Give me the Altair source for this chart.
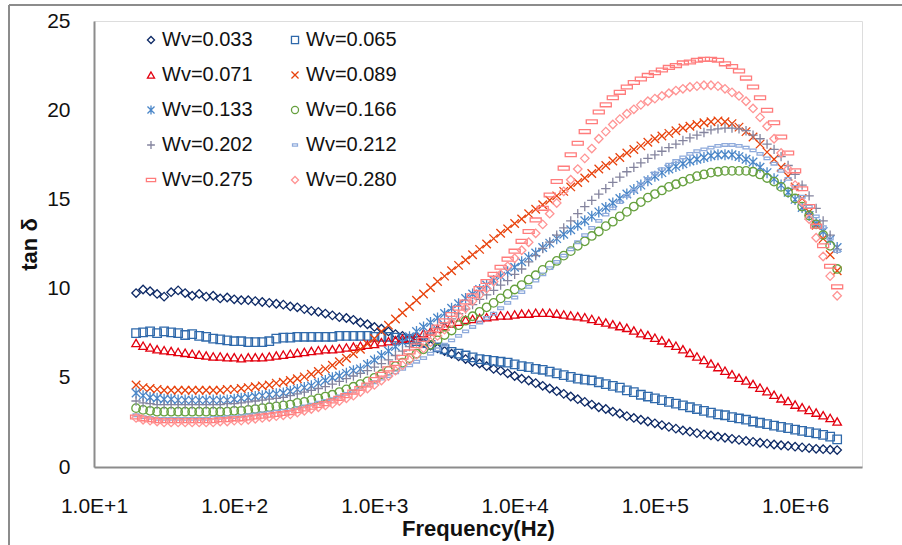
import altair as alt
import pandas as pd

series_names = ["Wv=0.033", "Wv=0.065", "Wv=0.071", "Wv=0.089", "Wv=0.133",
                "Wv=0.166", "Wv=0.202", "Wv=0.212", "Wv=0.275", "Wv=0.280"]

# measurement grid: 20 Hz .. 2 MHz, 20 points per decade
freq_hz = [10 ** (1.30 + 0.05 * i) for i in range(101)]

wv_0033 = [9.75, 9.95, 9.85, 9.7, 9.55, 9.8, 9.9, 9.75, 9.6, 9.7,
           9.55, 9.6, 9.45, 9.5, 9.4, 9.35, 9.35, 9.3, 9.25, 9.2,
           9.15, 9.1, 9.0, 8.95, 8.85, 8.75, 8.7, 8.6, 8.5, 8.4,
           8.35, 8.25, 8.1, 8.0, 7.85, 7.75, 7.6, 7.45, 7.35, 7.2,
           7.1, 6.95, 6.8, 6.65, 6.5, 6.35, 6.2, 6.05, 5.9, 5.8,
           5.65, 5.5, 5.4, 5.25, 5.1, 4.95, 4.85, 4.7, 4.55, 4.4,
           4.25, 4.1, 3.95, 3.8, 3.65, 3.5, 3.35, 3.25, 3.1, 3.0,
           2.85, 2.75, 2.65, 2.55, 2.45, 2.35, 2.25, 2.15, 2.05, 1.98,
           1.9, 1.83, 1.77, 1.7, 1.64, 1.58, 1.52, 1.46, 1.41, 1.36,
           1.31, 1.26, 1.22, 1.18, 1.14, 1.1, 1.06, 1.02, 1.0, 0.97,
           0.95]
wv_0065 = [7.5, 7.55, 7.6, 7.5, 7.6, 7.55, 7.5, 7.4, 7.45, 7.35,
           7.3, 7.2, 7.15, 7.1, 7.05, 7.05, 7.0, 7.0, 7.0, 7.05,
           7.2, 7.25, 7.25, 7.3, 7.3, 7.3, 7.3, 7.3, 7.3, 7.35,
           7.35, 7.35, 7.35, 7.35, 7.3, 7.3, 7.3, 7.25, 7.2, 7.15,
           7.05, 6.95, 6.85, 6.7, 6.6, 6.45, 6.35, 6.25, 6.15, 6.05,
           6.0, 5.95, 5.9, 5.85, 5.75, 5.65, 5.6, 5.5, 5.45, 5.35,
           5.25, 5.15, 5.05, 4.95, 4.9, 4.85, 4.75, 4.65, 4.55, 4.45,
           4.3, 4.2, 4.05, 3.95, 3.85, 3.75, 3.65, 3.55, 3.45, 3.35,
           3.25, 3.15, 3.05, 2.95, 2.9, 2.8, 2.72, 2.65, 2.55, 2.48,
           2.4, 2.32, 2.25, 2.18, 2.1, 2.02, 1.95, 1.88, 1.8, 1.7,
           1.55]
wv_0071 = [6.95, 6.8, 6.7, 6.6, 6.55, 6.5, 6.45, 6.4, 6.35, 6.3,
           6.25, 6.2, 6.2, 6.15, 6.15, 6.1, 6.15, 6.15, 6.15, 6.2,
           6.25, 6.3, 6.35, 6.4, 6.45, 6.5, 6.55, 6.6, 6.6, 6.65,
           6.7, 6.75, 6.8, 6.85, 6.9, 7.0, 7.05, 7.1, 7.2, 7.25,
           7.35, 7.5, 7.6, 7.75, 7.9, 8.05, 8.15, 8.25, 8.3, 8.35,
           8.4, 8.45, 8.5, 8.5, 8.55, 8.6, 8.6, 8.65, 8.65, 8.65,
           8.6, 8.55, 8.5, 8.45, 8.4, 8.3, 8.2, 8.1, 8.0, 7.9,
           7.8, 7.65, 7.5, 7.4, 7.25, 7.1, 6.95, 6.8, 6.6, 6.4,
           6.2, 6.0, 5.8, 5.6, 5.4, 5.2, 5.0, 4.85, 4.65, 4.45,
           4.25, 4.05, 3.85, 3.7, 3.5, 3.35, 3.2, 3.05, 2.9, 2.75,
           2.55]
wv_0089 = [4.6, 4.45, 4.4, 4.35, 4.3, 4.3, 4.3, 4.3, 4.3, 4.3,
           4.3, 4.3, 4.3, 4.35, 4.35, 4.4, 4.45, 4.5, 4.55, 4.6,
           4.7, 4.75, 4.85, 4.95, 5.05, 5.2, 5.35, 5.5, 5.7, 5.9,
           6.1, 6.35, 6.6, 6.9, 7.2, 7.6, 7.95, 8.3, 8.65, 9.0,
           9.35, 9.7, 10.05, 10.4, 10.7, 11.0, 11.3, 11.6, 11.9, 12.2,
           12.5, 12.8, 13.1, 13.35, 13.65, 13.9, 14.2, 14.45, 14.7, 14.95,
           15.2, 15.45, 15.7, 15.95, 16.2, 16.45, 16.7, 16.9, 17.15, 17.35,
           17.6, 17.8, 18.0, 18.2, 18.4, 18.55, 18.7, 18.85, 19.0, 19.1,
           19.2, 19.3, 19.35, 19.4, 19.35, 19.25, 19.05, 18.8, 18.5, 18.1,
           17.65, 17.25, 16.8, 16.3, 15.7, 15.05, 14.3, 13.55, 12.8, 11.9,
           11.0]
wv_0133 = [4.15, 4.0, 3.9, 3.85, 3.8, 3.8, 3.75, 3.75, 3.75, 3.75,
           3.75, 3.75, 3.75, 3.75, 3.8, 3.85, 3.9, 3.95, 4.0, 4.05,
           4.1, 4.15, 4.25, 4.35, 4.45, 4.55, 4.7, 4.85, 5.0, 5.1,
           5.25, 5.4, 5.5, 5.75, 6.0, 6.25, 6.5, 6.75, 7.0, 7.3,
           7.6, 7.85, 8.1, 8.35, 8.6, 8.9, 9.15, 9.45, 9.7, 9.95,
           10.2, 10.45, 10.7, 10.95, 11.2, 11.5, 11.75, 12.0, 12.3, 12.55,
           12.8, 13.05, 13.3, 13.55, 13.8, 14.05, 14.3, 14.55, 14.8, 15.05,
           15.3, 15.55, 15.8, 16.05, 16.3, 16.5, 16.7, 16.85, 17.0, 17.15,
           17.25, 17.35, 17.45, 17.5, 17.5, 17.5, 17.4, 17.25, 17.1, 16.8,
           16.5, 16.15, 15.8, 15.4, 15.0, 14.55, 14.1, 13.65, 13.2, 12.75,
           12.3]
wv_0166 = [3.3, 3.2, 3.15, 3.1, 3.1, 3.1, 3.1, 3.1, 3.1, 3.1,
           3.1, 3.1, 3.1, 3.1, 3.15, 3.15, 3.2, 3.25, 3.3, 3.35,
           3.4, 3.45, 3.5, 3.6, 3.65, 3.75, 3.85, 3.95, 4.05, 4.2,
           4.35, 4.5, 4.65, 4.8, 5.0, 5.2, 5.4, 5.65, 5.85, 6.1,
           6.35, 6.6, 6.85, 7.1, 7.4, 7.65, 7.95, 8.2, 8.45, 8.7,
           8.95, 9.2, 9.45, 9.7, 9.95, 10.2, 10.5, 10.75, 11.05, 11.3,
           11.55, 11.85, 12.1, 12.4, 12.65, 12.95, 13.2, 13.5, 13.75, 14.05,
           14.3, 14.6, 14.85, 15.1, 15.3, 15.5, 15.7, 15.85, 16.0, 16.15,
           16.3, 16.4, 16.5, 16.55, 16.6, 16.6, 16.6, 16.6, 16.55, 16.4,
           16.2, 16.0, 15.7, 15.4, 15.05, 14.6, 14.1, 13.6, 13.0, 12.4,
           11.1]
wv_0202 = [3.7, 3.6, 3.55, 3.5, 3.5, 3.5, 3.5, 3.5, 3.5, 3.5,
           3.5, 3.5, 3.5, 3.55, 3.55, 3.6, 3.65, 3.7, 3.75, 3.8,
           3.85, 3.9, 4.0, 4.1, 4.2, 4.3, 4.4, 4.5, 4.65, 4.8,
           4.95, 5.1, 5.25, 5.4, 5.6, 5.8, 6.0, 6.25, 6.5, 6.75,
           7.0, 7.25, 7.5, 7.8, 8.05, 8.3, 8.6, 8.85, 9.1, 9.4,
           9.65, 9.9, 10.2, 10.45, 10.8, 11.1, 11.5, 11.85, 12.25, 12.6,
           13.0, 13.4, 13.8, 14.2, 14.6, 14.95, 15.3, 15.6, 15.95, 16.25,
           16.55, 16.8, 17.05, 17.3, 17.5, 17.7, 17.9, 18.1, 18.3, 18.45,
           18.6, 18.75, 18.9, 18.95, 19.0, 19.0, 18.95, 18.85, 18.6, 18.4,
           18.1, 17.8, 17.4, 16.9, 16.4, 15.8, 15.2, 14.5, 13.8, 13.0,
           12.2]
wv_0212 = [2.9, 2.8, 2.75, 2.7, 2.7, 2.7, 2.7, 2.7, 2.7, 2.7,
           2.7, 2.75, 2.75, 2.8, 2.8, 2.85, 2.9, 2.95, 3.0, 3.05,
           3.1, 3.15, 3.2, 3.3, 3.4, 3.5, 3.6, 3.7, 3.8, 3.95,
           4.1, 4.25, 4.45, 4.6, 4.75, 4.95, 5.1, 5.3, 5.5, 5.7,
           5.9, 6.1, 6.35, 6.6, 6.85, 7.1, 7.35, 7.6, 7.85, 8.1,
           8.35, 8.6, 8.9, 9.2, 9.5, 9.8, 10.1, 10.45, 10.8, 11.15,
           11.5, 11.85, 12.2, 12.6, 13.0, 13.4, 13.8, 14.15, 14.5, 14.85,
           15.2, 15.5, 15.85, 16.15, 16.45, 16.7, 16.95, 17.15, 17.35, 17.55,
           17.7, 17.8, 17.9, 18.0, 18.05, 18.05, 18.0, 17.9, 17.75, 17.55,
           17.3, 17.0, 16.6, 16.15, 15.7, 15.15, 14.6, 14.05, 13.45, 12.8,
           12.1]
wv_0275 = [2.8, 2.7, 2.65, 2.6, 2.6, 2.6, 2.6, 2.6, 2.6, 2.6,
           2.6, 2.6, 2.65, 2.65, 2.7, 2.7, 2.75, 2.8, 2.85, 2.9,
           2.95, 3.0, 3.05, 3.15, 3.25, 3.35, 3.45, 3.55, 3.7, 3.85,
           4.0, 4.2, 4.4, 4.6, 4.9, 5.2, 5.5, 5.8, 6.15, 6.45,
           6.8, 7.15, 7.5, 7.85, 8.2, 8.55, 8.9, 9.25, 9.6, 10.0,
           10.4, 10.8, 11.2, 11.65, 12.1, 12.65, 13.2, 13.85, 14.5, 15.25,
           16.0, 16.75, 17.5, 18.15, 18.8, 19.35, 19.9, 20.3, 20.7, 21.0,
           21.3, 21.55, 21.75, 21.95, 22.1, 22.25, 22.4, 22.5, 22.65, 22.7,
           22.8, 22.85, 22.85, 22.8, 22.6, 22.45, 22.2, 21.8, 21.3, 20.7,
           20.0, 19.3, 18.5, 17.6, 16.6, 15.6, 14.6, 13.5, 12.4, 11.25,
           10.1]
wv_0280 = [2.75, 2.65, 2.6, 2.55, 2.5, 2.5, 2.5, 2.5, 2.5, 2.5,
           2.5, 2.5, 2.55, 2.55, 2.6, 2.6, 2.65, 2.7, 2.75, 2.8,
           2.85, 2.9, 2.95, 3.05, 3.15, 3.25, 3.35, 3.45, 3.55, 3.7,
           3.85, 4.0, 4.2, 4.4, 4.6, 4.85, 5.1, 5.4, 5.7, 6.0,
           6.3, 6.65, 7.0, 7.35, 7.7, 8.1, 8.5, 8.9, 9.3, 9.65,
           10.0, 10.4, 10.8, 11.25, 11.7, 12.15, 12.6, 13.1, 13.6, 14.2,
           14.8, 15.45, 16.1, 16.7, 17.3, 17.85, 18.4, 18.8, 19.2, 19.5,
           19.8, 20.05, 20.3, 20.5, 20.65, 20.8, 20.95, 21.1, 21.2, 21.3,
           21.35, 21.4, 21.4, 21.35, 21.2, 21.0, 20.8, 20.5, 20.1, 19.6,
           19.1, 18.4, 17.6, 16.7, 15.8, 14.85, 13.9, 12.85, 11.8, 10.7,
           9.6]

all_values = [wv_0033, wv_0065, wv_0071, wv_0089, wv_0133,
              wv_0166, wv_0202, wv_0212, wv_0275, wv_0280]

colors = ["#0E2A66", "#2F69AB", "#E3000F", "#E8420C", "#4A86C8",
          "#66A03E", "#84849E", "#8EAADB", "#FF7C7C", "#FF9494"]
shapes = [
    "diamond",
    "square",
    "triangle-up",
    "M-1,-1L1,1M-1,1L1,-1",
    "M-1,-1L1,1M-1,1L1,-1M0,-1.3L0,1.3",
    "circle",
    "M-1.1,0L1.1,0M0,-1.1L0,1.1",
    "M-0.7,-0.3L0.7,-0.3L0.7,0.3L-0.7,0.3Z",
    "M-1.3,-0.45L1.3,-0.45L1.3,0.45L-1.3,0.45Z",
    "diamond",
]

rows = []
for name, vals in zip(series_names, all_values):
    for f, v in zip(freq_hz, vals):
        rows.append({"freq": f, "tan": v, "series": name})
df = pd.DataFrame(rows)

FONT = "Liberation Sans"

legend = alt.Legend(
    title=None, orient="none", legendX=47, legendY=9, columns=2,
    direction="horizontal",
    labelFont=FONT, labelFontSize=20, labelColor="#111111", labelOffset=1,
    symbolSize=50, symbolStrokeWidth=1.3, columnPadding=32, rowPadding=15,
    labelLimit=200,
)

points = alt.Chart(df).mark_point(filled=False, size=72, strokeWidth=1.3, opacity=1).encode(
    x=alt.X("freq:Q",
            scale=alt.Scale(type="log", domain=[10, 3000000], nice=False),
            axis=alt.Axis(values=[10, 100, 1000, 10000, 100000, 1000000],
                          labelExpr="'1.0E+' + round(log(datum.value) / LN10)",
                          labelFlush=False,
                          title="Frequency(Hz)", titleFont=FONT, titleFontSize=22,
                          titleFontWeight="bold", titleColor="#111111",
                          titleY=68, titleBaseline="alphabetic",
                          labelFont=FONT, labelFontSize=21, labelColor="#111111",
                          labelPadding=28, ticks=False, tickSize=0, grid=False,
                          domainColor="#8c8c8c", domainWidth=2)),
    y=alt.Y("tan:Q",
            scale=alt.Scale(domain=[0, 25], nice=False),
            axis=alt.Axis(values=[0, 5, 10, 15, 20, 25], title="tan δ",
                          titleFont=FONT, titleFontSize=22, titleFontWeight="bold",
                          titleColor="#111111", titleX=-65, titleBaseline="middle",
                          labelFont=FONT, labelFontSize=21, labelColor="#111111",
                          labelPadding=24, labelFlush=False, ticks=False, tickSize=0,
                          grid=False, domainColor="#8c8c8c", domainWidth=2)),
    color=alt.Color("series:N", scale=alt.Scale(domain=series_names, range=colors), legend=legend),
    shape=alt.Shape("series:N", scale=alt.Scale(domain=series_names, range=shapes), legend=legend),
)

frame_df = pd.DataFrame({"k": [0]})
frame_left = alt.Chart(frame_df).mark_rule(color="#8c8c8c", strokeWidth=2).encode(
    x=alt.value(-85), y=alt.value(-16), y2=alt.value(540))
frame_top = alt.Chart(frame_df).mark_rule(color="#8c8c8c", strokeWidth=2).encode(
    x=alt.value(-85), x2=alt.value(820), y=alt.value(-16))

chart = alt.layer(points, frame_left, frame_top).properties(
    width=768, height=446,
    padding={"left": 94, "top": 21, "right": 40, "bottom": 78},
    autosize="none",
).configure_view(strokeWidth=0).configure(background="white")

chart.save("out.html", embed_options={"renderer": "svg", "actions": False})
